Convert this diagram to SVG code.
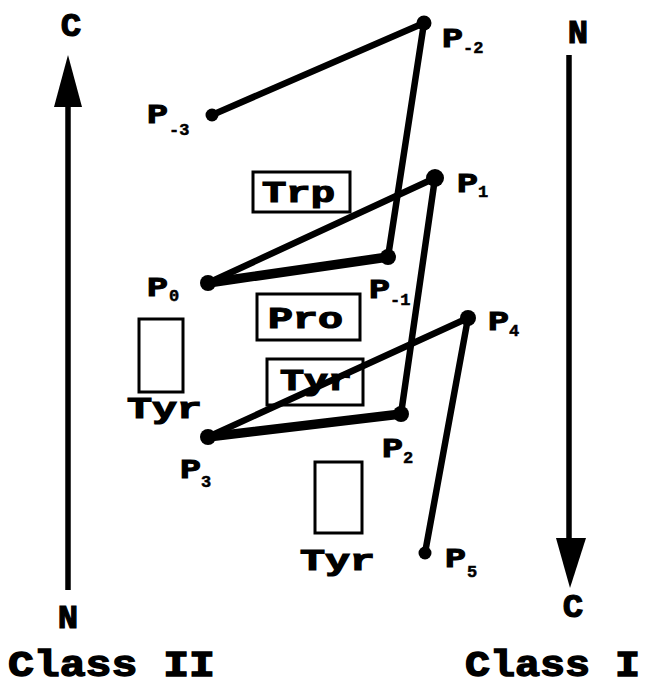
<svg xmlns="http://www.w3.org/2000/svg" width="648" height="686" viewBox="0 0 648 686">
<style>
text{font-family:"Liberation Mono","Courier New",monospace;font-weight:bold;fill:#000;stroke:#000}
.lbl{font-size:27px;stroke-width:1}
.sub{font-size:17px;stroke-width:0.5}
.res{font-size:29px;stroke-width:1.2}
.axis{font-size:34px;stroke-width:1.2}
.cls{font-size:37px;stroke-width:1.4}
.box{fill:#fff;stroke:#000;stroke-width:3}
.bond{stroke:#000;stroke-width:6.5;stroke-linecap:round;fill:none}
.thick{stroke-width:9.5}
.shaft{stroke:#000;stroke-width:5.5}
</style>
<rect width="648" height="686" fill="#fff"/>
<g id="axis-left">
<line class="shaft" x1="68" y1="590" x2="68" y2="100"/>
<polygon points="68,55 54,107 82,107" fill="#000"/>
<text class="axis" x="71" y="36" text-anchor="middle">C</text>
<text class="axis" x="68" y="628" text-anchor="middle">N</text>
</g>
<g id="axis-right">
<line class="shaft" x1="569" y1="55" x2="569" y2="545"/>
<polygon points="556,538 586,538 570,588" fill="#000"/>
<text class="axis" x="578" y="43" text-anchor="middle">N</text>
<text class="axis" x="573" y="617" text-anchor="middle">C</text>
</g>
<g id="class-II"><text class="cls" x="8" y="676" textLength="207" lengthAdjust="spacingAndGlyphs">Class II</text></g>
<g id="class-I"><text class="cls" x="465" y="676" textLength="175" lengthAdjust="spacingAndGlyphs">Class I</text></g>
<g id="trp"><rect class="box" x="253" y="172" width="97" height="40"/><text class="res" x="262" y="202" textLength="73" lengthAdjust="spacingAndGlyphs">Trp</text></g>
<g id="pro"><rect class="box" x="257" y="294" width="103" height="46"/><text class="res" x="268" y="328" textLength="75" lengthAdjust="spacingAndGlyphs">Pro</text></g>
<g id="tyr-box"><rect class="box" x="267" y="359" width="96" height="46"/><text class="res" x="280" y="390" textLength="72" lengthAdjust="spacingAndGlyphs">Tyr</text></g>
<g id="tyr-left"><rect class="box" x="139" y="319" width="44" height="73"/><text class="res" x="127" y="418" textLength="75" lengthAdjust="spacingAndGlyphs">Tyr</text></g>
<g id="tyr-bottom"><rect class="box" x="315" y="462" width="47" height="71"/><text class="res" x="300" y="570" textLength="75" lengthAdjust="spacingAndGlyphs">Tyr</text></g>
<g id="connectors">
<line class="bond" x1="212" y1="115" x2="424" y2="23"/>
<line class="bond" x1="424" y1="23" x2="388" y2="257"/>
<line class="bond thick" x1="388" y1="257" x2="208" y2="283"/>
<line class="bond" x1="208" y1="283" x2="435" y2="178"/>
<line class="bond" x1="435" y1="178" x2="401" y2="414"/>
<line class="bond thick" x1="401" y1="414" x2="208" y2="437"/>
<line class="bond" x1="208" y1="437" x2="468" y2="318"/>
<line class="bond" x1="468" y1="318" x2="425" y2="553"/>
</g>
<g id="P-3"><circle cx="212" cy="115" r="6.5"/><text class="lbl" x="147" y="123" textLength="21" lengthAdjust="spacingAndGlyphs">P</text><text class="sub" x="169" y="135">-3</text></g>
<g id="P-2"><circle cx="424" cy="23" r="7.5"/><text class="lbl" x="442" y="47" textLength="21" lengthAdjust="spacingAndGlyphs">P</text><text class="sub" x="463" y="53">-2</text></g>
<g id="P-1"><circle cx="388" cy="257" r="8"/><text class="lbl" x="369" y="298" textLength="21" lengthAdjust="spacingAndGlyphs">P</text><text class="sub" x="390" y="305">-1</text></g>
<g id="P0"><circle cx="208" cy="283" r="8"/><text class="lbl" x="147" y="296" textLength="21" lengthAdjust="spacingAndGlyphs">P</text><text class="sub" x="169" y="301">0</text></g>
<g id="P1"><circle cx="435" cy="178" r="9"/><text class="lbl" x="457" y="192" textLength="21" lengthAdjust="spacingAndGlyphs">P</text><text class="sub" x="478" y="197">1</text></g>
<g id="P2"><circle cx="401" cy="414" r="8"/><text class="lbl" x="382" y="457" textLength="21" lengthAdjust="spacingAndGlyphs">P</text><text class="sub" x="403" y="463">2</text></g>
<g id="P3"><circle cx="208" cy="437" r="8"/><text class="lbl" x="180" y="478" textLength="21" lengthAdjust="spacingAndGlyphs">P</text><text class="sub" x="201" y="487">3</text></g>
<g id="P4"><circle cx="468" cy="318" r="8"/><text class="lbl" x="488" y="330" textLength="21" lengthAdjust="spacingAndGlyphs">P</text><text class="sub" x="509" y="336">4</text></g>
<g id="P5"><circle cx="425" cy="553" r="6.5"/><text class="lbl" x="445" y="567" textLength="21" lengthAdjust="spacingAndGlyphs">P</text><text class="sub" x="467" y="577">5</text></g>
</svg>
